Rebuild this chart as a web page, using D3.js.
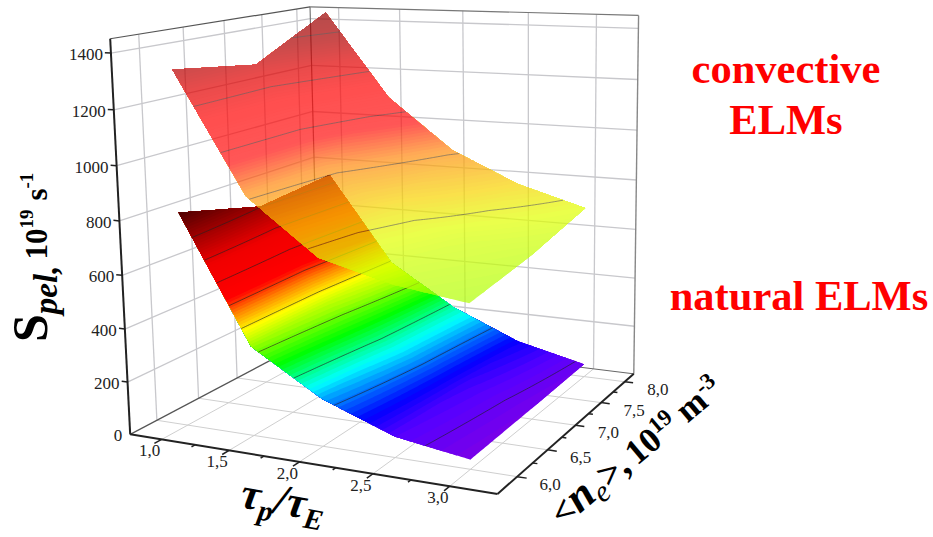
<!DOCTYPE html>
<html>
<head>
<meta charset="utf-8">
<script src="https://cdn.jsdelivr.net/npm/d3@7"></script>
<style>
body { margin: 0; background: #fff; }
text { font-family: "Liberation Serif", serif; }
</style>
</head>
<body>
<svg id="chart" width="933" height="537"></svg>
<script>
const xTicks = [1, 1.5, 2, 2.5, 3];
const yTicks = [6, 6.5, 7, 7.5, 8];
const zTicks = [0, 200, 400, 600, 800, 1000, 1200, 1400];

const tauValues = [1, 1.5, 2, 2.5, 3];
const neValues = [6, 7, 8];

const naturalZ = [
    [808, 337, 177, 77, 35],
    [722, 355, 215, 90, 42],
    [750, 394, 229, 115, 52]
];
const convectiveZ = [
    [1328, 890, 692, 624, 587],
    [1283, 915, 745, 672, 630],
    [1438, 1095, 892, 772, 695]
];

const naturalLevels = [60, 160, 240, 320, 400, 480, 560, 640, 720];
const convectiveLevels = [720, 880, 1040, 1200, 1360];

const naturalStops = [35, 77, 120, 170, 205, 280, 340, 390, 450, 500, 620, 700, 808];
const naturalColors = ["#7a00e8", "#5500ff", "#0000ff", "#0090ff", "#00ffff", "#00ff00", "#a0ff00", "#ffff00", "#ff8000", "#ff0000", "#f00000", "#b00000", "#500000"];
const convectiveStops = [587, 695, 772, 900, 1000, 1150, 1250, 1340, 1440];
const convectiveColors = ["#b0ff05", "#e2ff00", "#f8d400", "#ff8810", "#ff1010", "#ff0505", "#e00000", "#b00000", "#980000"];

const svg = d3.select("#chart");

// ranges of the box
const scX = d3.scaleLinear().domain([0.76, 3.3]).range([0, 1]);
const scY = d3.scaleLinear().domain([5.7, 8.2]).range([0, 1]);
const scZ = d3.scaleLinear().domain([0, 1450]).range([0, 1]);

// box corners on the picture, the camera is fitted to them
const boxCorners = [
    [0, 0, 0, 129, 435], [1, 0, 0, 498, 493], [1, 1, 0, 633, 375], [0, 1, 0, 320, 334],
    [0, 0, 1, 111, 39], [0, 1, 1, 309, 7], [1, 1, 1, 639, 15]
];

function fitCamera(corners) {
    let rows = [];
    corners.forEach(([X, Y, Z, u, v]) => {
        rows.push([X, Y, Z, 1, 0, 0, 0, 0, -u * X, -u * Y, -u * Z, u]);
        rows.push([0, 0, 0, 0, X, Y, Z, 1, -v * X, -v * Y, -v * Z, v]);
    });
    const n = 11;
    let m = d3.range(n).map(i => d3.range(n + 1).map(j =>
        d3.sum(rows, r => r[i] * r[j])));
    for (let i = 0; i < n; i++) {
        let best = i;
        for (let k = i + 1; k < n; k++) if (Math.abs(m[k][i]) > Math.abs(m[best][i])) best = k;
        [m[i], m[best]] = [m[best], m[i]];
        for (let k = 0; k < n; k++) {
            if (k === i) continue;
            const f = m[k][i] / m[i][i];
            for (let j = i; j <= n; j++) m[k][j] -= f * m[i][j];
        }
    }
    return m.map((r, i) => r[n] / r[i]);
}
const cam = fitCamera(boxCorners);

function project(x, y, z) {
    const X = scX(x), Y = scY(y), Z = scZ(z);
    const w = cam[8] * X + cam[9] * Y + cam[10] * Z + 1;
    return [
        (cam[0] * X + cam[1] * Y + cam[2] * Z + cam[3]) / w,
        (cam[4] * X + cam[5] * Y + cam[6] * Z + cam[7]) / w
    ];
}

function segment(a, b, color, width, parent) {
    const p = project(...a), q = project(...b);
    parent.append("line")
        .attr("x1", p[0]).attr("y1", p[1]).attr("x2", q[0]).attr("y2", q[1])
        .attr("stroke", color).attr("stroke-width", width);
}

function drawBox() {
    const g = svg.append("g");
    const [x0, x1] = scX.domain(), [y0, y1] = scY.domain(), z1 = scZ.domain()[1];
    const grid = "#c8c8cc";
    xTicks.forEach(x => {
        segment([x, y0, 0], [x, y1, 0], "#cfcfcf", 1, g);
        segment([x, y1, 0], [x, y1, z1], grid, 1.3, g);
    });
    yTicks.forEach(y => {
        segment([x0, y, 0], [x1, y, 0], "#cfcfcf", 1, g);
        segment([x0, y, 0], [x0, y, z1], grid, 1.3, g);
    });
    zTicks.slice(1).forEach(z => {
        segment([x0, y0, z], [x0, y1, z], grid, 1.3, g);
        segment([x0, y1, z], [x1, y1, z], grid, 1.3, g);
    });
    segment([x0, y1, 0], [x0, y1, z1], "#777", 1.2, g);
    segment([x1, y1, 0], [x1, y1, z1], "#888", 1.4, g);
    segment([x0, y0, z1], [x0, y1, z1], "#555", 1.2, g);
    segment([x0, y1, z1], [x1, y1, z1], "#777", 1.2, g);
    segment([x0, y1, 0], [x1, y1, 0], "#666", 1, g);
    segment([x0, y0, 0], [x0, y1, 0], "#555", 1.2, g);
}

function drawAxes() {
    const g = svg.append("g");
    const [x0, x1] = scX.domain(), [y0, y1] = scY.domain(), z1 = scZ.domain()[1];
    segment([x0, y0, 0], [x1, y0, 0], "#222", 2, g);
    segment([x1, y0, 0], [x1, y1, 0], "#222", 2, g);
    segment([x0, y0, 0], [x0, y0, z1], "#222", 2, g);

    xTicks.forEach((x, i) => {
        segment([x, y0, 0], [x, y0 - 0.08, 0], "#222", 1.5, g);
        if (i < xTicks.length - 1) segment([x + 0.25, y0, 0], [x + 0.25, y0 - 0.04, 0], "#222", 1.5, g);
        const p = project(x, y0, 0);
        g.append("text").attr("x", p[0] - 12).attr("y", p[1] + 17)
            .attr("text-anchor", "middle").attr("font-size", 17).attr("fill", "#222")
            .text(d3.format(".1f")(x).replace(".", ","));
    });
    yTicks.forEach((y, i) => {
        segment([x1, y, 0], [x1 + 0.06, y, 0], "#222", 1.5, g);
        if (i < yTicks.length - 1) segment([x1, y + 0.25, 0], [x1 + 0.03, y + 0.25, 0], "#222", 1.5, g);
        const p = project(x1, y, 0);
        g.append("text").attr("x", p[0] + 33).attr("y", p[1] + 13)
            .attr("text-anchor", "middle").attr("font-size", 17).attr("fill", "#222")
            .text(d3.format(".1f")(y).replace(".", ","));
    });
    zTicks.forEach(z => {
        if (z > 0) segment([x0, y0, z], [x0 - 0.045, y0, z], "#222", 1.5, g);
        const p = project(x0, y0, z);
        g.append("text").attr("x", p[0] - 8).attr("y", p[1] + 7)
            .attr("text-anchor", "end").attr("font-size", 17).attr("fill", "#222")
            .text(z);
    });
}

// height between the read grid points, needed for the smooth colour bands
function surfaceAt(rows, x, y) {
    const c = Math.min(d3.bisectRight(tauValues, x) - 1, tauValues.length - 2);
    const r = Math.min(d3.bisectRight(neValues, y) - 1, neValues.length - 2);
    const fc = (x - tauValues[c]) / (tauValues[c + 1] - tauValues[c]);
    const fr = (y - neValues[r]) / (neValues[r + 1] - neValues[r]);
    return (rows[r][c] * (1 - fc) + rows[r][c + 1] * fc) * (1 - fr)
        + (rows[r + 1][c] * (1 - fc) + rows[r + 1][c + 1] * fc) * fr;
}

function onEdge(pt, nx, ny) {
    return pt[0] <= 0 || pt[0] >= nx || pt[1] <= 0 || pt[1] >= ny;
}

function drawSurface(rows, stops, colors, levels, alpha) {
    const nx = 161, ny = 81;
    const colX = d3.scaleLinear().domain([0.5, nx - 0.5]).range(d3.extent(tauValues)).clamp(true);
    const rowY = d3.scaleLinear().domain([0.5, ny - 0.5]).range(d3.extent(neValues)).clamp(true);

    let values = [];
    for (let j = 0; j < ny; j++) {
        for (let i = 0; i < nx; i++) values.push(surfaceAt(rows, colX(i + 0.5), rowY(j + 0.5)));
    }
    const [lo, hi] = d3.extent(values);
    const color = d3.scaleLinear().domain(stops).range(colors).clamp(true);
    const step = (hi - lo) / 90;

    const g = svg.append("g").style("opacity", alpha);
    const contours = d3.contours().size([nx, ny]);

    d3.range(lo - 1, hi, step).forEach(level => {
        const shape = contours.thresholds([level])(values)[0];
        let path = "";
        shape.coordinates.forEach(poly => poly.forEach(ring => {
            ring.forEach((pt, k) => {
                const x = colX(pt[0]), y = rowY(pt[1]);
                const p = project(x, y, surfaceAt(rows, x, y));
                path += (k ? "L" : "M") + p[0].toFixed(2) + "," + p[1].toFixed(2);
            });
            path += "Z";
        }));
        g.append("path").attr("d", path).attr("fill", color(level + step / 2)).attr("fill-rule", "evenodd");
    });

    // contour lines, rings are cut where they run along the border of the surface
    levels.forEach(level => {
        const shape = contours.thresholds([level])(values)[0];
        let path = "";
        shape.coordinates.forEach(poly => poly.forEach(ring => {
            let pen = false;
            ring.forEach(pt => {
                if (onEdge(pt, nx, ny)) { pen = false; return; }
                const p = project(colX(pt[0]), rowY(pt[1]), level);
                path += (pen ? "L" : "M") + p[0].toFixed(2) + "," + p[1].toFixed(2);
                pen = true;
            });
        }));
        g.append("path").attr("d", path).attr("fill", "none")
            .attr("stroke", "#222").attr("stroke-opacity", 0.7).attr("stroke-width", 0.9);
    });
}

function drawLabels() {
    const red = "#ff0000";
    [["convective", 786, 83], ["ELMs", 786, 134], ["natural ELMs", 799, 310]].forEach(d => {
        svg.append("text").attr("x", d[1]).attr("y", d[2]).attr("text-anchor", "middle")
            .attr("font-size", 42.5).attr("font-weight", "bold").attr("fill", red).text(d[0]);
    });

    let yLabel = svg.append("text").attr("transform", "translate(47,342) rotate(-90)")
        .attr("font-weight", "bold").attr("fill", "#000");
    yLabel.append("tspan").attr("font-size", 50).text("S");
    yLabel.append("tspan").attr("font-size", 33).attr("font-style", "italic").attr("dy", 10).text("pel,");
    yLabel.append("tspan").attr("font-size", 31).attr("dy", -10).attr("dx", 6).text("10");
    yLabel.append("tspan").attr("font-size", 19).attr("dy", -14).text("19");
    yLabel.append("tspan").attr("font-size", 31).attr("dy", 14).attr("dx", 9).text("s");
    yLabel.append("tspan").attr("font-size", 19).attr("dy", -14).text("-1");

    let xLabel = svg.append("text").attr("transform", "translate(239,507) rotate(10)")
        .attr("font-weight", "bold").attr("font-style", "italic").attr("fill", "#000");
    xLabel.append("tspan").attr("font-size", 44).text("τ");
    xLabel.append("tspan").attr("font-size", 29).attr("dy", 9).text("p");
    xLabel.append("tspan").attr("font-size", 44).attr("dy", -9).text("/τ");
    xLabel.append("tspan").attr("font-size", 29).attr("dy", 9).text("E");

    let neLabel = svg.append("text").attr("transform", "translate(563,528) rotate(-40)")
        .attr("font-weight", "bold").attr("fill", "#000");
    neLabel.append("tspan").attr("font-size", 38).attr("font-style", "italic").text("<");
    neLabel.append("tspan").attr("font-size", 44).attr("font-style", "italic").text("n");
    neLabel.append("tspan").attr("font-size", 30).attr("font-style", "italic").attr("font-weight", "normal").attr("dy", 7).text("e");
    neLabel.append("tspan").attr("font-size", 38).attr("font-style", "italic").attr("dy", -7).text(">");
    neLabel.append("tspan").attr("font-size", 38).text(",");
    neLabel.append("tspan").attr("font-size", 35).attr("dx", 6).text("10");
    neLabel.append("tspan").attr("font-size", 23).attr("dy", -12).text("19");
    neLabel.append("tspan").attr("font-size", 35).attr("dy", 12).attr("dx", 8).text("m");
    neLabel.append("tspan").attr("font-size", 23).attr("dy", -12).text("-3");
}

drawBox();
drawSurface(naturalZ, naturalStops, naturalColors, naturalLevels, 1);
drawSurface(convectiveZ, convectiveStops, convectiveColors, convectiveLevels, 0.7);
drawAxes();
drawLabels();
</script>
</body>
</html>
